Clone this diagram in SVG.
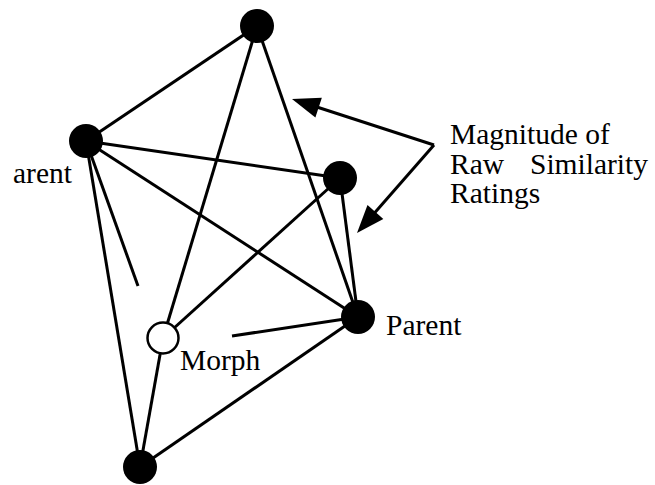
<svg xmlns="http://www.w3.org/2000/svg" width="655" height="485" viewBox="0 0 655 485">
<style>
.e{stroke:#000;stroke-width:3;fill:none;stroke-linecap:butt}
.n{fill:#000}
.m{fill:#fff;stroke:#000;stroke-width:2.5}
.t{font-family:"Liberation Serif","Times New Roman",serif;font-size:29.5px;fill:#000}
</style>
<defs>
<marker id="ah" markerUnits="userSpaceOnUse" markerWidth="30" markerHeight="22" refX="14" refY="10.5" orient="auto" overflow="visible">
<path d="M0,0 L28,10.5 L0,21 Z" fill="#000"/>
</marker>
</defs>
<rect width="655" height="485" fill="#fff"/>
<g id="connectors">
<line class="e" x1="257" y1="26" x2="86" y2="141"/>
<line class="e" x1="257" y1="26" x2="163" y2="338"/>
<line class="e" x1="257" y1="26" x2="358" y2="317"/>
<line class="e" x1="86" y1="141" x2="340" y2="178"/>
<line class="e" x1="86" y1="141" x2="358" y2="317"/>
<line class="e" x1="86" y1="141" x2="140" y2="467"/>
<line class="e" x1="86" y1="141" x2="138" y2="286"/>
<line class="e" x1="340" y1="178" x2="163" y2="338"/>
<line class="e" x1="340" y1="178" x2="358" y2="317"/>
<line class="e" x1="358" y1="317" x2="232" y2="336"/>
<line class="e" x1="358" y1="317" x2="140" y2="467"/>
<line class="e" x1="163" y1="338" x2="140" y2="467"/>
<line class="e" x1="434" y1="145" x2="305.3" y2="103.3" marker-end="url(#ah)"/>
<line class="e" x1="434" y1="145" x2="366.2" y2="222.5" marker-end="url(#ah)"/>
</g>
<g id="node-top"><circle class="n" cx="257" cy="26" r="17"/></g>
<g id="node-left"><circle class="n" cx="86" cy="141" r="17"/><text class="t" x="13" y="183">arent</text></g>
<g id="node-rightmid"><circle class="n" cx="340" cy="178" r="17"/></g>
<g id="node-parent"><circle class="n" cx="358" cy="317" r="17"/><text class="t" x="386" y="335">Parent</text></g>
<g id="node-morph"><circle class="m" cx="163" cy="338" r="15.5"/><text class="t" x="180" y="370">Morph</text></g>
<g id="node-bottom"><circle class="n" cx="140" cy="467" r="17"/></g>
<g id="label">
<text class="t" x="450" y="144">Magnitude of</text>
<text class="t" y="173.5"><tspan x="450">Raw</tspan><tspan x="530">Similarity</tspan></text>
<text class="t" x="450" y="203">Ratings</text>
</g>
</svg>
